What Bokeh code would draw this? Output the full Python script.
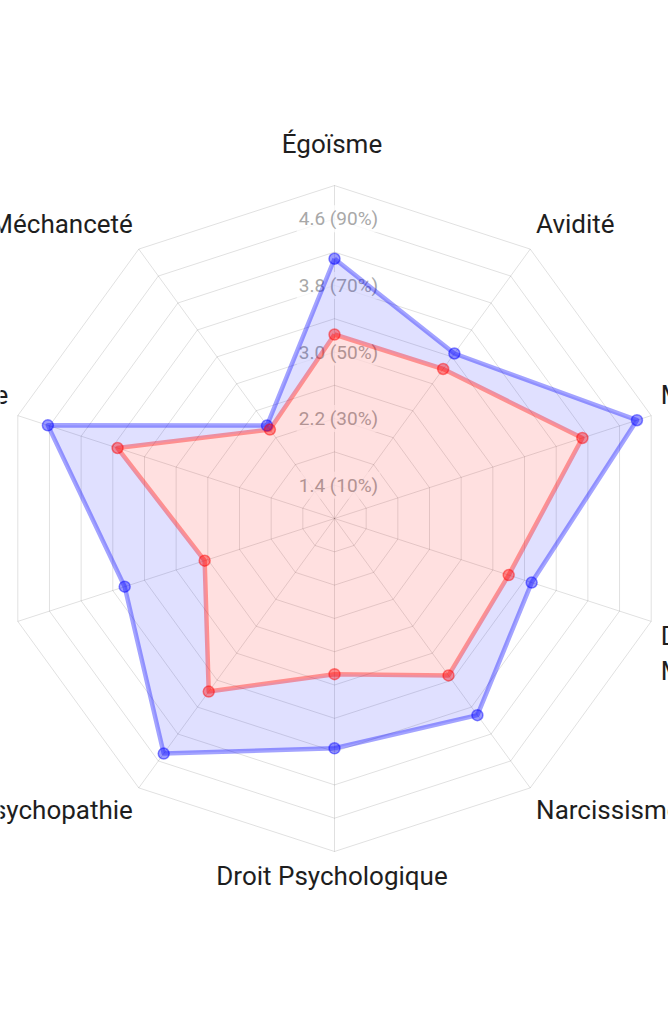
import math
from bokeh.plotting import figure
from bokeh.models import Range1d
from bokeh.core.properties import value
from bokeh.embed import file_html
from bokeh.resources import INLINE

# ---------------- data ----------------
categories = ["Égoïsme", "Avidité", "Machiavélisme", "Désengagement\nMoral",
              "Narcissisme", "Droit Psychologique", "Psychopathie",
              "Intérêt Personnel", "Sadisme", "Méchanceté"]
series_blue = [4.12, 3.45, 4.82, 3.49, 3.92, 3.76, 4.49, 3.65, 4.62, 2.38]
series_red = [3.21, 3.22, 4.13, 3.20, 3.33, 2.87, 3.57, 2.64, 3.74, 2.32]
ring_values = [1.4, 1.8, 2.2, 2.6, 3.0, 3.4, 3.8, 4.2, 4.6, 5.0]
tick_values = [1.4, 2.2, 3.0, 3.8, 4.6]
tick_labels = ["1.4 (10%)", "2.2 (30%)", "3.0 (50%)", "3.8 (70%)", "4.6 (90%)"]
scale_min, scale_max = 1.0, 5.0

# ---------------- geometry ----------------
W, H = 668, 1024
CX, CY = 334, 518          # centre in plot pixels (from top-left)
R = 333.0                  # outer radius in px
n = len(categories)
angles = [2 * math.pi * i / n for i in range(n)]


def rad(v):
    return (v - scale_min) / (scale_max - scale_min) * R


def pt(v, a):
    r = rad(v)
    return r * math.sin(a), r * math.cos(a)


p = figure(width=W, height=H, output_backend="svg", toolbar_location=None,
           x_range=Range1d(-CX, W - CX), y_range=Range1d(-(H - CY), CY),
           min_border=0, outline_line_color=None)
p.axis.visible = False
p.grid.visible = False
p.background_fill_color = "white"
p.border_fill_color = "white"

# grid rings
rx, ry = [], []
for v in ring_values:
    xs = [pt(v, a)[0] for a in angles] + [pt(v, angles[0])[0]]
    ys = [pt(v, a)[1] for a in angles] + [pt(v, angles[0])[1]]
    rx.append(xs)
    ry.append(ys)
p.multi_line(rx, ry, line_color="black", line_alpha=0.12, line_width=1)

# spokes
sx1 = [pt(scale_max, a)[0] for a in angles]
sy1 = [pt(scale_max, a)[1] for a in angles]
p.segment([0] * n, [0] * n, sx1, sy1, line_color="black", line_alpha=0.12, line_width=1)

# tick labels
p.text([4] * len(tick_values), [rad(v) for v in tick_values], text=tick_labels,
       text_font=value("Roboto"), text_font_size="19px", text_color="#a8a8a8",
       text_align="center", text_baseline="middle",
       background_fill_color="white", background_fill_alpha=0.75, padding=2)

# fills
bx = [pt(v, a)[0] for v, a in zip(series_blue, angles)]
by = [pt(v, a)[1] for v, a in zip(series_blue, angles)]
qx = [pt(v, a)[0] for v, a in zip(series_red, angles)]
qy = [pt(v, a)[1] for v, a in zip(series_red, angles)]

p.multi_polygons(xs=[[[bx, qx]]], ys=[[[by, qy]]], fill_color="blue",
                 fill_alpha=0.12, line_color=None)
p.patch(qx, qy, fill_color="red", fill_alpha=0.12, line_color=None)

# lines
p.line(bx + [bx[0]], by + [by[0]], line_color="blue", line_alpha=0.36,
       line_width=4.5, line_join="round")
p.line(qx + [qx[0]], qy + [qy[0]], line_color="red", line_alpha=0.36,
       line_width=4.5, line_join="round")

# points
p.scatter(bx, by, size=11, fill_color="blue", fill_alpha=0.4,
          line_color="blue", line_alpha=0.45, line_width=1.5)
p.scatter(qx, qy, size=11, fill_color="red", fill_alpha=0.4,
          line_color="red", line_alpha=0.45, line_width=1.5)

# point labels
LS = 26
LH = 24 * 1.2
RL = R + 10
lx, ly, la = [], [], []
for i, (lab, a) in enumerate(zip(categories, angles)):
    nl = lab.count("\n") + 1
    x = RL * math.sin(a)
    y = RL * math.cos(a)
    deg = round(math.degrees(a)) % 360
    if deg in (0, 180):
        align = "center"
        x -= 2.5
    elif deg < 180:
        align = "left"
    else:
        align = "right"
    if deg in (90, 270):
        yc = y
    elif deg < 90 or deg > 270:
        yc = y + nl * LH / 2 + 3
    else:
        yc = y - nl * LH / 2
    if i == 0:
        yc += 14
    if deg == 252:
        x -= 7
    lx.append(x)
    ly.append(yc)
    la.append(align)

for x, y, t, al in zip(lx, ly, categories, la):
    p.text([x], [y], text=[t], text_font=value("Roboto"),
           text_font_size=f"{LS}px", text_color="#1e1e1e", text_align=al,
           text_baseline="middle", text_line_height=1.15)

open("out.html", "w").write(file_html(p, INLINE))
